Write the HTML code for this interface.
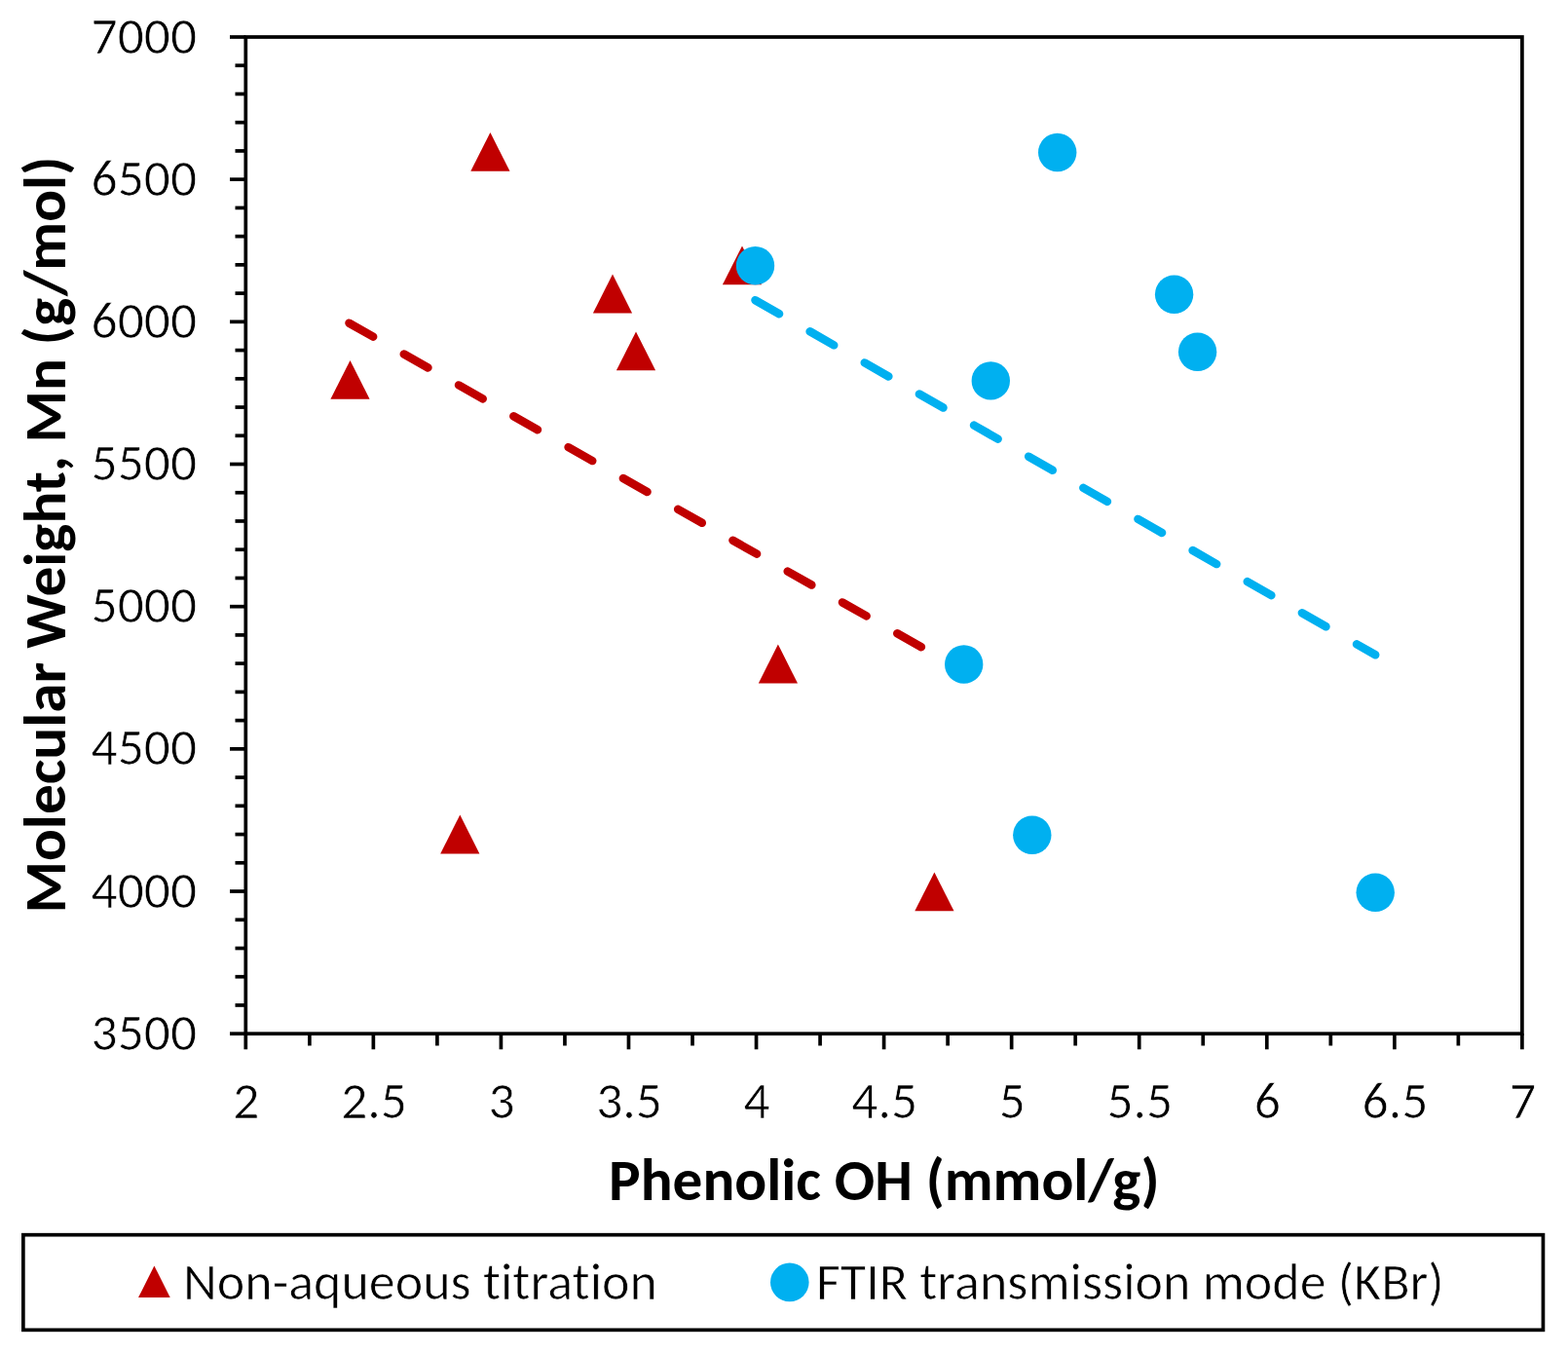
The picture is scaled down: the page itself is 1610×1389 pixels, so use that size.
<!DOCTYPE html>
<html><head><meta charset="utf-8"><title>Phenolic OH vs Molecular Weight</title>
<style>
html,body{margin:0;padding:0;background:#fff;}
body{width:1610px;height:1389px;overflow:hidden;}
svg{display:block;filter:blur(0.5px);}
text{font-variant-ligatures:none;font-feature-settings:"liga" 0,"clig" 0;}
.t{font-family:"Carlito", "Liberation Sans", sans-serif;font-size:53.5px;fill:#000;stroke:#fff;stroke-width:0.7px;}
.l{font-family:"Carlito", "Liberation Sans", sans-serif;font-size:54px;fill:#000;stroke:#fff;stroke-width:0.7px;}
.b{font-family:"Carlito", "Liberation Sans", sans-serif;font-size:61.25px;font-weight:bold;fill:#000;}
</style></head><body>
<svg width="1610" height="1389" viewBox="0 0 1610 1389">
<rect width="1610" height="1389" fill="#fff"/>
<rect x="252.3" y="38.0" width="1310.6" height="1023.2" fill="none" stroke="#000" stroke-width="3.7"/>
<line x1="236.0" y1="1061.20" x2="252.3" y2="1061.20" stroke="#000" stroke-width="3.7"/>
<text x="202.0" y="1077.7" text-anchor="end" class="t">3500</text>
<line x1="241.5" y1="1031.97" x2="252.3" y2="1031.97" stroke="#000" stroke-width="3.7"/>
<line x1="241.5" y1="1002.73" x2="252.3" y2="1002.73" stroke="#000" stroke-width="3.7"/>
<line x1="241.5" y1="973.50" x2="252.3" y2="973.50" stroke="#000" stroke-width="3.7"/>
<line x1="241.5" y1="944.26" x2="252.3" y2="944.26" stroke="#000" stroke-width="3.7"/>
<line x1="236.0" y1="915.03" x2="252.3" y2="915.03" stroke="#000" stroke-width="3.7"/>
<text x="202.0" y="931.5" text-anchor="end" class="t">4000</text>
<line x1="241.5" y1="885.79" x2="252.3" y2="885.79" stroke="#000" stroke-width="3.7"/>
<line x1="241.5" y1="856.56" x2="252.3" y2="856.56" stroke="#000" stroke-width="3.7"/>
<line x1="241.5" y1="827.33" x2="252.3" y2="827.33" stroke="#000" stroke-width="3.7"/>
<line x1="241.5" y1="798.09" x2="252.3" y2="798.09" stroke="#000" stroke-width="3.7"/>
<line x1="236.0" y1="768.86" x2="252.3" y2="768.86" stroke="#000" stroke-width="3.7"/>
<text x="202.0" y="785.4" text-anchor="end" class="t">4500</text>
<line x1="241.5" y1="739.62" x2="252.3" y2="739.62" stroke="#000" stroke-width="3.7"/>
<line x1="241.5" y1="710.39" x2="252.3" y2="710.39" stroke="#000" stroke-width="3.7"/>
<line x1="241.5" y1="681.15" x2="252.3" y2="681.15" stroke="#000" stroke-width="3.7"/>
<line x1="241.5" y1="651.92" x2="252.3" y2="651.92" stroke="#000" stroke-width="3.7"/>
<line x1="236.0" y1="622.69" x2="252.3" y2="622.69" stroke="#000" stroke-width="3.7"/>
<text x="202.0" y="639.2" text-anchor="end" class="t">5000</text>
<line x1="241.5" y1="593.45" x2="252.3" y2="593.45" stroke="#000" stroke-width="3.7"/>
<line x1="241.5" y1="564.22" x2="252.3" y2="564.22" stroke="#000" stroke-width="3.7"/>
<line x1="241.5" y1="534.98" x2="252.3" y2="534.98" stroke="#000" stroke-width="3.7"/>
<line x1="241.5" y1="505.75" x2="252.3" y2="505.75" stroke="#000" stroke-width="3.7"/>
<line x1="236.0" y1="476.51" x2="252.3" y2="476.51" stroke="#000" stroke-width="3.7"/>
<text x="202.0" y="493.0" text-anchor="end" class="t">5500</text>
<line x1="241.5" y1="447.28" x2="252.3" y2="447.28" stroke="#000" stroke-width="3.7"/>
<line x1="241.5" y1="418.05" x2="252.3" y2="418.05" stroke="#000" stroke-width="3.7"/>
<line x1="241.5" y1="388.81" x2="252.3" y2="388.81" stroke="#000" stroke-width="3.7"/>
<line x1="241.5" y1="359.58" x2="252.3" y2="359.58" stroke="#000" stroke-width="3.7"/>
<line x1="236.0" y1="330.34" x2="252.3" y2="330.34" stroke="#000" stroke-width="3.7"/>
<text x="202.0" y="346.8" text-anchor="end" class="t">6000</text>
<line x1="241.5" y1="301.11" x2="252.3" y2="301.11" stroke="#000" stroke-width="3.7"/>
<line x1="241.5" y1="271.87" x2="252.3" y2="271.87" stroke="#000" stroke-width="3.7"/>
<line x1="241.5" y1="242.64" x2="252.3" y2="242.64" stroke="#000" stroke-width="3.7"/>
<line x1="241.5" y1="213.41" x2="252.3" y2="213.41" stroke="#000" stroke-width="3.7"/>
<line x1="236.0" y1="184.17" x2="252.3" y2="184.17" stroke="#000" stroke-width="3.7"/>
<text x="202.0" y="200.7" text-anchor="end" class="t">6500</text>
<line x1="241.5" y1="154.94" x2="252.3" y2="154.94" stroke="#000" stroke-width="3.7"/>
<line x1="241.5" y1="125.70" x2="252.3" y2="125.70" stroke="#000" stroke-width="3.7"/>
<line x1="241.5" y1="96.47" x2="252.3" y2="96.47" stroke="#000" stroke-width="3.7"/>
<line x1="241.5" y1="67.23" x2="252.3" y2="67.23" stroke="#000" stroke-width="3.7"/>
<line x1="236.0" y1="38.00" x2="252.3" y2="38.00" stroke="#000" stroke-width="3.7"/>
<text x="202.0" y="54.5" text-anchor="end" class="t">7000</text>
<line x1="252.30" y1="1061.2" x2="252.30" y2="1077.3" stroke="#000" stroke-width="3.7"/>
<text x="252.9" y="1148" text-anchor="middle" class="t">2</text>
<line x1="317.83" y1="1061.2" x2="317.83" y2="1073.5" stroke="#000" stroke-width="3.7"/>
<line x1="383.36" y1="1061.2" x2="383.36" y2="1077.3" stroke="#000" stroke-width="3.7"/>
<text x="384.0" y="1148" text-anchor="middle" class="t">2.5</text>
<line x1="448.89" y1="1061.2" x2="448.89" y2="1073.5" stroke="#000" stroke-width="3.7"/>
<line x1="514.42" y1="1061.2" x2="514.42" y2="1077.3" stroke="#000" stroke-width="3.7"/>
<text x="515.0" y="1148" text-anchor="middle" class="t">3</text>
<line x1="579.95" y1="1061.2" x2="579.95" y2="1073.5" stroke="#000" stroke-width="3.7"/>
<line x1="645.48" y1="1061.2" x2="645.48" y2="1077.3" stroke="#000" stroke-width="3.7"/>
<text x="646.1" y="1148" text-anchor="middle" class="t">3.5</text>
<line x1="711.01" y1="1061.2" x2="711.01" y2="1073.5" stroke="#000" stroke-width="3.7"/>
<line x1="776.54" y1="1061.2" x2="776.54" y2="1077.3" stroke="#000" stroke-width="3.7"/>
<text x="777.1" y="1148" text-anchor="middle" class="t">4</text>
<line x1="842.07" y1="1061.2" x2="842.07" y2="1073.5" stroke="#000" stroke-width="3.7"/>
<line x1="907.60" y1="1061.2" x2="907.60" y2="1077.3" stroke="#000" stroke-width="3.7"/>
<text x="908.2" y="1148" text-anchor="middle" class="t">4.5</text>
<line x1="973.13" y1="1061.2" x2="973.13" y2="1073.5" stroke="#000" stroke-width="3.7"/>
<line x1="1038.66" y1="1061.2" x2="1038.66" y2="1077.3" stroke="#000" stroke-width="3.7"/>
<text x="1039.3" y="1148" text-anchor="middle" class="t">5</text>
<line x1="1104.19" y1="1061.2" x2="1104.19" y2="1073.5" stroke="#000" stroke-width="3.7"/>
<line x1="1169.72" y1="1061.2" x2="1169.72" y2="1077.3" stroke="#000" stroke-width="3.7"/>
<text x="1170.3" y="1148" text-anchor="middle" class="t">5.5</text>
<line x1="1235.25" y1="1061.2" x2="1235.25" y2="1073.5" stroke="#000" stroke-width="3.7"/>
<line x1="1300.78" y1="1061.2" x2="1300.78" y2="1077.3" stroke="#000" stroke-width="3.7"/>
<text x="1301.4" y="1148" text-anchor="middle" class="t">6</text>
<line x1="1366.31" y1="1061.2" x2="1366.31" y2="1073.5" stroke="#000" stroke-width="3.7"/>
<line x1="1431.84" y1="1061.2" x2="1431.84" y2="1077.3" stroke="#000" stroke-width="3.7"/>
<text x="1432.4" y="1148" text-anchor="middle" class="t">6.5</text>
<line x1="1497.37" y1="1061.2" x2="1497.37" y2="1073.5" stroke="#000" stroke-width="3.7"/>
<line x1="1562.90" y1="1061.2" x2="1562.90" y2="1077.3" stroke="#000" stroke-width="3.7"/>
<text x="1563.5" y="1148" text-anchor="middle" class="t">7</text>
<line x1="358.5" y1="331.7" x2="959.4" y2="671.9" stroke="#C00000" stroke-width="8.5" stroke-linecap="round" stroke-dasharray="28.3 36.37"/>
<polygon points="359.5,370.0 379.6,409.8 339.4,409.8" fill="#C00000"/>
<polygon points="472.3,836.6 492.4,876.4 452.2,876.4" fill="#C00000"/>
<polygon points="503.4,136.0 523.5,175.8 483.3,175.8" fill="#C00000"/>
<polygon points="629.0,281.6 649.1,321.4 608.9,321.4" fill="#C00000"/>
<polygon points="653.0,340.4 673.1,380.2 632.9,380.2" fill="#C00000"/>
<polygon points="762.0,252.4 782.1,292.2 741.9,292.2" fill="#C00000"/>
<polygon points="798.9,661.6 819.0,701.4 778.8,701.4" fill="#C00000"/>
<polygon points="959.4,895.5 979.5,935.3 939.3,935.3" fill="#C00000"/>
<line x1="775.5" y1="308.2" x2="1412.2" y2="672.3" stroke="#00B0F0" stroke-width="8.5" stroke-linecap="round" stroke-dasharray="28.3 36.37"/>
<circle cx="775.5" cy="272.8" r="19.7" fill="#00B0F0"/>
<circle cx="989.7" cy="682.0" r="19.7" fill="#00B0F0"/>
<circle cx="1017.3" cy="390.9" r="19.7" fill="#00B0F0"/>
<circle cx="1059.8" cy="857.2" r="19.7" fill="#00B0F0"/>
<circle cx="1085.7" cy="156.5" r="19.7" fill="#00B0F0"/>
<circle cx="1205.6" cy="302.2" r="19.7" fill="#00B0F0"/>
<circle cx="1229.6" cy="361.2" r="19.7" fill="#00B0F0"/>
<circle cx="1412.2" cy="916.2" r="19.7" fill="#00B0F0"/>
<text x="625.1" y="1232.2" class="b">Phenolic OH (mmol/g)</text>
<text transform="translate(67,937.6) rotate(-90)" class="b">Molecular Weight, Mn (g/mol)</text>
<rect x="23.85" y="1267.7" width="1560.6" height="97.65" fill="none" stroke="#000" stroke-width="3.7"/>
<polygon points="158.4,1299.5 174.7,1332 142.1,1332" fill="#C00000"/>
<text x="188" y="1333.8" class="l">Non-aqueous titration</text>
<circle cx="810.8" cy="1316.4" r="19.8" fill="#00B0F0"/>
<text x="838" y="1333.7" class="l">FTIR transmission mode (KBr)</text>
</svg>
</body></html>
